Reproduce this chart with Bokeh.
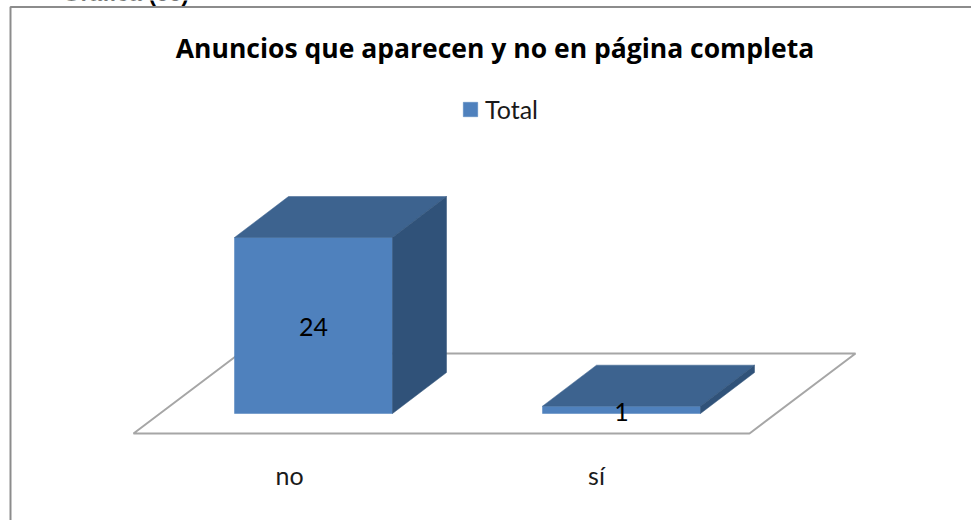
from bokeh.plotting import figure
from bokeh.embed import file_html
from bokeh.resources import INLINE
from bokeh.models import Range1d, Legend, LegendItem
from bokeh.core.properties import value

categories = ["no", "sí"]
totals = [24, 1]
series_name = "Total"
title_text = "Anuncios que aparecen y no en página completa"
cut_text = "Gráfica (66)"

W, H = 971, 520
PITCH = 308.0      # px per category step
UNIT = 176 / 24    # px per value unit
X0, Y0 = 313, 413  # pixel of category 0 / value 0

xr = Range1d(-X0 / PITCH, (W - X0) / PITCH)
yr = Range1d(-(H - Y0) / UNIT, Y0 / UNIT)

p = figure(width=W, height=H, x_range=xr, y_range=yr, output_backend="svg",
           toolbar_location=None, min_border=0, margin=(0, 0, 0, 0))
p.axis.visible = False
p.grid.visible = False
p.outline_line_color = None

def px(x):
    return (x - X0) / PITCH

def py(y):
    return (Y0 - y) / UNIT

half = 79 / PITCH
dx, dy = 54 / PITCH, 41 / UNIT

# cut-off caption above the page frame
p.text([px(62)], [py(-8)], text=[cut_text], text_font=value("Liberation Sans"), text_font_style="bold",
       text_font_size="23px", text_align="left", text_baseline="alphabetic", text_color="#000000")

# page frame
p.line([px(10), px(10), px(W)], [py(H), py(6.5), py(6.5)], line_color="#8c8c8c", line_width=2)

# floor
p.patch([px(133), px(749), px(855), px(239)], [py(433), py(433), py(353), py(353)],
        fill_color="white", line_color="#a6a6a6", line_width=2)

# bars
front = dict(xs=[], ys=[])
top = dict(xs=[], ys=[])
side = dict(xs=[], ys=[])
for i, v in enumerate(totals):
    l, r = i - half, i + half
    front["xs"].append([l, r, r, l])
    front["ys"].append([0, 0, v, v])
    top["xs"].append([l, r, r + dx, l + dx])
    top["ys"].append([v, v, v + dy, v + dy])
    side["xs"].append([r, r + dx, r + dx, r])
    side["ys"].append([0, dy, v + dy, v])
front_r = p.patches(front["xs"], front["ys"], fill_color="#4f81bd", line_color="#4f81bd", line_width=0.5)
p.patches(top["xs"], top["ys"], fill_color="#3d638f", line_color="#3d638f", line_width=0.5)
p.patches(side["xs"], side["ys"], fill_color="#305279", line_color="#305279", line_width=0.5)

# texts
font = value("Lato")
p.text([px(494.5)], [py(47)], text=[title_text], text_font=value("Open Sans"), text_font_style="bold",
       text_font_size="26.5px", text_align="center", text_baseline="middle", text_color="#000000")
p.text([0, 1], [py(326), py(411)], text=[str(v) for v in totals], text_font=font,
       text_font_size="25px", text_align="center", text_baseline="middle", text_color="#000000")
p.text([px(289), px(596)], [py(474), py(474)], text=categories, text_font=font,
       text_font_size="25px", text_align="center", text_baseline="middle", text_color="#1a1a1a")

# legend
legend = Legend(items=[LegendItem(label=series_name, renderers=[front_r])], location=(461, H - 124),
                background_fill_alpha=0, border_line_color=None, glyph_width=18, glyph_height=18,
                label_text_font="Lato", label_text_font_size="25px", label_text_color="#1a1a1a",
                label_standoff=6, padding=8, margin=0, label_height=20)
p.add_layout(legend, "center")

open("out.html", "w").write(file_html(p, INLINE))
